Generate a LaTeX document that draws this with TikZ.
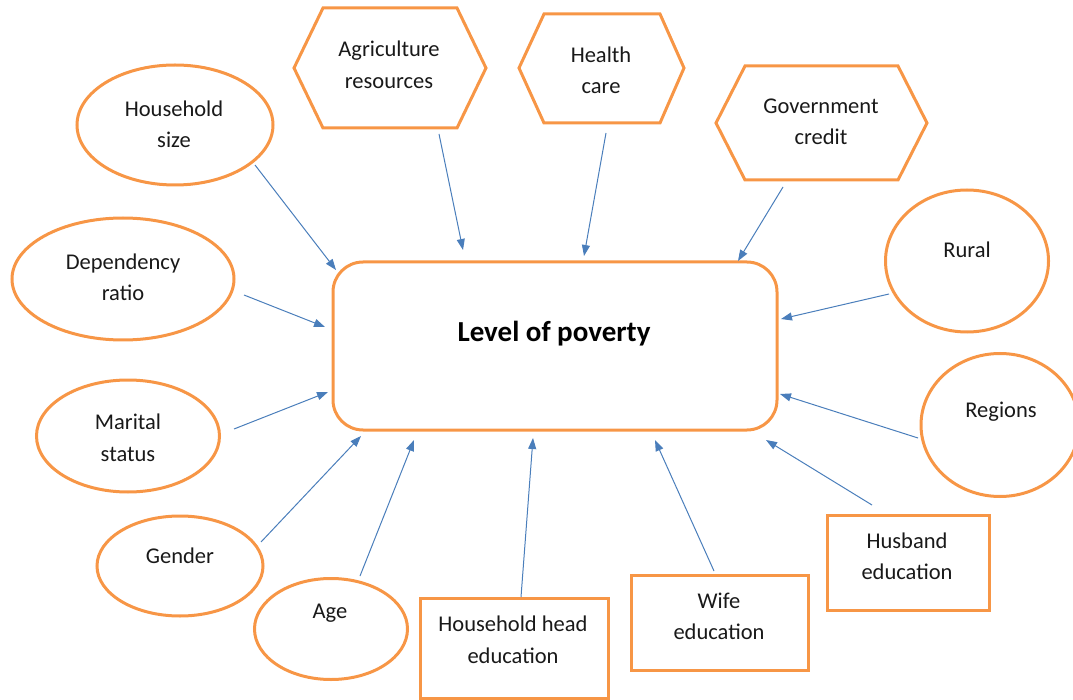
\documentclass[tikz,border=0pt]{standalone}
\usepackage{fontspec}
\setmainfont{Carlito}
\usetikzlibrary{shapes.geometric,arrows.meta}
\definecolor{orng}{HTML}{F79646}
\definecolor{arrblue}{HTML}{4A7EBB}
\tikzset{
  shapeline/.style={draw=orng,line width=3pt},
  oval/.style={shapeline,ellipse,inner sep=0pt},
  sqbox/.style={shapeline,rectangle,inner sep=0pt},
  lbl/.style={align=center,inner sep=0pt,font=\fontsize{22.5}{31.5}\selectfont,text=black!90},
  conn/.style={draw=arrblue,line width=1pt,-{Triangle[length=11pt,width=8pt]}}
}
\begin{document}
\begin{tikzpicture}[x=1pt,y=-1pt]
\useasboundingbox (0,0) rectangle (1073,700);
% main box
\node[shapeline,rounded corners=30pt,minimum width=444pt,minimum height=168pt,inner sep=0pt] (main) at (555,346) {};
\node[inner sep=0pt,font=\bfseries\fontsize{29}{34}\selectfont] (mainlbl) at (554,334) {Level of poverty};
% ellipses
\node[oval,minimum width=196pt,minimum height=120pt] (hs) at (175,125) {};
\node[lbl] (hslbl) at (174,124.5) {Household\\size};
\node[oval,minimum width=222pt,minimum height=122pt] (dr) at (123,279) {};
\node[lbl] (drlbl) at (123,277.5) {Dependency\\ratio};
\node[oval,minimum width=183pt,minimum height=112pt] (ms) at (128,436) {};
\node[lbl] (mslbl) at (128,438) {Marital\\status};
\node[oval,minimum width=166pt,minimum height=100pt] (ge) at (180,566) {};
\node[lbl] (gelbl) at (180,556) {Gender};
\node[oval,minimum width=153pt,minimum height=101pt] (ag) at (331,629) {};
\node[lbl] (aglbl) at (330,613) {Age};
\node[oval,minimum width=163pt,minimum height=142pt] (ru) at (967,261) {};
\node[lbl] (rulbl) at (967,250) {Rural};
\node[oval,minimum width=158pt,minimum height=143pt] (re) at (1000,425) {};
\node[lbl] (relbl) at (1001,412) {Regions};
% rectangles
\node[sqbox,minimum width=188pt,minimum height=100pt] (hh) at (514,648) {};
\node[lbl] (hhlbl) at (513,640) {Household head\\education};
\node[sqbox,minimum width=177pt,minimum height=95pt] (wi) at (719.5,622.5) {};
\node[lbl] (wilbl) at (719,616.5) {Wife\\education};
\node[sqbox,minimum width=162pt,minimum height=95pt] (hu) at (908,562.5) {};
\node[lbl] (hulbl) at (907,556.5) {Husband\\education};
% hexagons
\draw[shapeline,line join=miter] (294,68) -- (323,8) -- (457,8) -- (486,68) -- (457,128) -- (323,128) -- cycle;
\node[lbl] (arlbl) at (389,65) {Agriculture\\resources};
\draw[shapeline,line join=miter] (519,68) -- (544,14) -- (660,14) -- (684,68) -- (660,123) -- (544,123) -- cycle;
\node[lbl] (hclbl) at (601,70.5) {Health\\care};
\draw[shapeline,line join=miter] (716,123) -- (745,66) -- (898,66) -- (927,123) -- (898,180) -- (745,180) -- cycle;
\node[lbl] (gclbl) at (821,122) {Government\\credit};
% connector ends
\coordinate (hsA) at (255,165); \coordinate (hsB) at (336,270);
\coordinate (arA) at (439,134); \coordinate (arB) at (463,250);
\coordinate (hcA) at (606,133); \coordinate (hcB) at (584,256);
\coordinate (gcA) at (783,187); \coordinate (gcB) at (738,261);
\coordinate (ruA) at (889,294); \coordinate (ruB) at (781,319);
\coordinate (drA) at (244,295); \coordinate (drB) at (325,327);
\coordinate (msA) at (234,429); \coordinate (msB) at (328,392);
\coordinate (geA) at (261,542); \coordinate (geB) at (361,436);
\coordinate (agA) at (360,576); \coordinate (agB) at (414,440);
\coordinate (hhA) at (521,597); \coordinate (hhB) at (533,438);
\coordinate (wiA) at (714,571); \coordinate (wiB) at (655,440);
\coordinate (huA) at (872,505); \coordinate (huB) at (766,440);
\coordinate (reA) at (918,438); \coordinate (reB) at (780,394);
\foreach \n in {hs,ar,hc,gc,ru,dr,ms,ge,ag,hh,wi,hu,re}
  \draw[conn] (\n A) -- (\n B);
\end{tikzpicture}
\end{document}
